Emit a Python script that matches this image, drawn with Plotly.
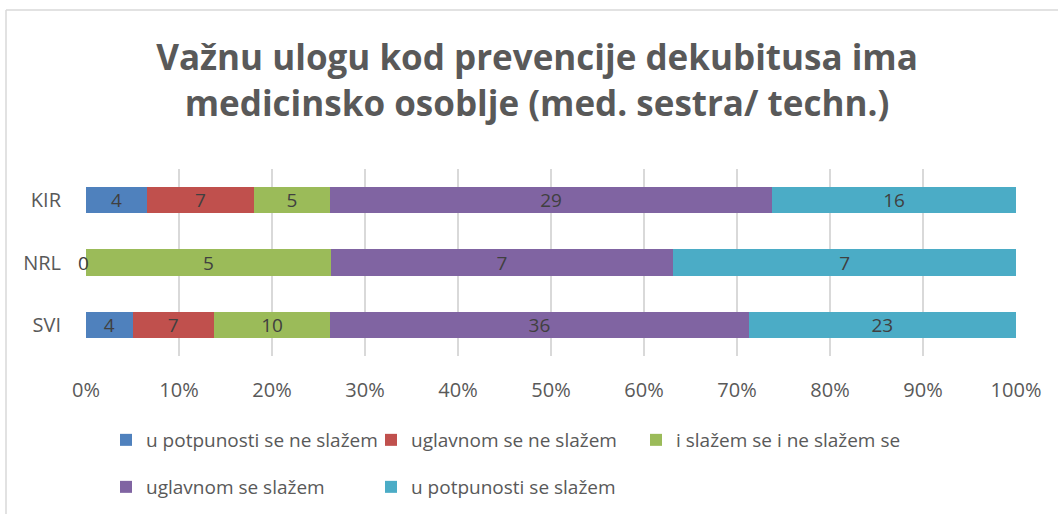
import plotly.graph_objects as go

categories = ["SVI", "NRL", "KIR"]
series_names = [
    "u potpunosti se ne slažem",
    "uglavnom se ne slažem",
    "i slažem se i ne slažem se",
    "uglavnom se slažem",
    "u potpunosti se slažem",
]
# counts per category (SVI, NRL, KIR)
u_potpunosti_ne = [4, 0, 4]
uglavnom_ne = [7, 0, 7]
i_i = [10, 5, 5]
uglavnom_da = [36, 7, 29]
u_potpunosti_da = [23, 7, 16]
series_values = [u_potpunosti_ne, uglavnom_ne, i_i, uglavnom_da, u_potpunosti_da]
colors = ["#4F81BD", "#C0504D", "#9BBB59", "#8064A2", "#4BACC6"]
x_ticks = [0, 10, 20, 30, 40, 50, 60, 70, 80, 90, 100]
x_tick_labels = [f"{t}%" for t in x_ticks]
title = "Važnu ulogu kod prevencije dekubitusa ima<br>medicinsko osoblje (med. sestra/ techn.)"

FONT = "Open Sans"
W, H = 1058, 514
L, R, T, B = 86, 42, 169, 158

# legend entry placement (pixels: legend left, row centre)
legend_pos = [(106, 440), (371, 440), (636, 440), (106, 487), (371, 487)]
legend_ids = ["legend", "legend2", "legend3", "legend4", "legend5"]

fig = go.Figure()
for name, vals, col, lg in zip(series_names, series_values, colors, legend_ids):
    fig.add_trace(go.Bar(
        y=categories, x=vals, name=name, orientation="h", legend=lg,
        marker=dict(color=col, line=dict(width=0)),
        text=[str(v) if v > 0 else "" for v in vals],
        textposition="inside", insidetextanchor="middle", textangle=0,
        constraintext="none",
        textfont=dict(family=FONT, size=19, color="#404040"),
        hoverinfo="skip",
    ))

# zero label shown at the start of the bar (as in the original)
for i, cat in enumerate(categories):
    if series_values[0][i] == 0:
        fig.add_annotation(x=0, y=cat, xref="x", yref="y", text=str(series_values[0][i]),
                           showarrow=False, xanchor="right", xshift=5,
                           font=dict(family=FONT, size=19, color="#404040"))

legend_layout = {}
for lg, (px, py) in zip(legend_ids, legend_pos):
    legend_layout[lg] = dict(orientation="h", xref="container", yref="container",
                             x=px / W, y=1 - py / H,
                             xanchor="left", yanchor="middle",
                             font=dict(family=FONT, size=19, color="#595959"),
                             itemwidth=30, bgcolor="rgba(0,0,0,0)")

fig.update_layout(
    width=W, height=H,
    margin=dict(l=L, r=R, t=T, b=B),
    barmode="stack", barnorm="percent", bargap=0.58,
    plot_bgcolor="white", paper_bgcolor="white",
    font=dict(family=FONT, color="#595959"),
    title=dict(text=title, x=537 / W, xanchor="center", xref="container",
               y=1 - 70 / H, yanchor="middle", yref="container",
               font=dict(family=FONT, size=35, color="#595959", weight="bold")),
    showlegend=True,
    xaxis=dict(range=[0, 100], tickvals=x_ticks, ticktext=x_tick_labels,
               showgrid=True, gridcolor="#D9D9D9", gridwidth=1.5,
               zeroline=False, showline=False, fixedrange=True, automargin=False,
               tickfont=dict(family=FONT, size=20, color="#595959"),
               ticks="", ticklabelstandoff=20),
    yaxis=dict(categoryorder="array", categoryarray=categories, automargin=False,
               range=[-0.5, 2.5], showgrid=False, zeroline=False, showline=False,
               tickfont=dict(family=FONT, size=20, color="#595959"),
               ticks="", ticklabelstandoff=24),
    **legend_layout,
)

# outer chart border (cropped at right/bottom in the original)
pw, ph = W - L - R, H - T - B
fx = lambda px: (px - L) / pw
fy = lambda py: 1 - (py - T) / ph
fig.add_shape(type="line", xref="paper", yref="paper", x0=fx(6), x1=fx(W + 5), y0=fy(10), y1=fy(10),
              line=dict(color="#D9D9D9", width=1.5), layer="below")
fig.add_shape(type="line", xref="paper", yref="paper", x0=fx(6), x1=fx(6), y0=fy(10), y1=fy(H + 5),
              line=dict(color="#D9D9D9", width=1.5), layer="below")

fig.write_html("out.html", config={"displayModeBar": False},
               post_script="document.body.style.margin='0px';")
